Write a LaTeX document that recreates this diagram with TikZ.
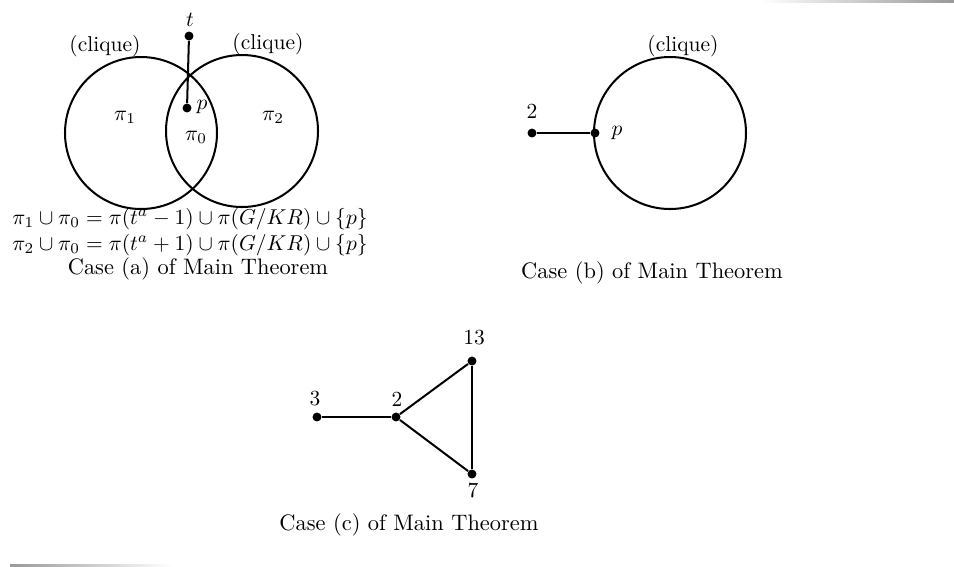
\documentclass[tikz,border=0pt]{standalone}
\usetikzlibrary{positioning}
\begin{document}
\begin{tikzpicture}[
  x=0.4464pt, y=-0.4464pt,
  vtx/.style={circle,fill,inner sep=0pt,minimum size=4pt},
  edge/.style={line width=0.9pt},
  blob/.style={line width=0.9pt},
  lbl/.style={inner sep=0pt,scale=0.96},
  capt/.style={inner sep=0pt},
]
\useasboundingbox (0,0) rectangle (954,566);
% scan edges
\shade[left color=white,right color=gray!80] (760,0) rectangle (954,2);
\shade[left color=gray!80,right color=white] (10,564) rectangle (172,566);

% Case (a): two cliques
\draw[blob] (141,133) circle[radius=76];
\draw[blob] (242,131) circle[radius=76];
\node[vtx] (ta) at (189,36) {};
\node[vtx] (pa) at (187,108) {};
\draw[edge] (ta) -- (pa);
\node[lbl] (tlbl) at (190,20) {$t$};
\node[lbl] (plbl) at (202,107) {$p$};
\node[lbl] (pi1) at (125,117) {$\pi_1$};
\node[lbl] (pi2) at (273,117) {$\pi_2$};
\node[lbl] (pi0) at (196,137) {$\pi_0$};
\node[lbl] (cqa1) at (105,46) {(clique)};
\node[lbl] (cqa2) at (268,44) {(clique)};
\node[lbl,align=center] (eqs) at (190,232)
  {$\pi_1\cup\pi_0=\pi(t^a-1)\cup\pi(G/KR)\cup\{p\}$\\[0.4pt]
   $\pi_2\cup\pi_0=\pi(t^a+1)\cup\pi(G/KR)\cup\{p\}$};
\node[capt] (capa) at (198,269) {Case (a) of Main Theorem};

% Case (b): one clique
\draw[blob] (670,133) circle[radius=76];
\node[vtx] (twob) at (532,133) {};
\node[vtx] (pb) at (595,133) {};
\draw[edge] (twob) -- (pb);
\node[lbl] (twolbl) at (532,111) {2};
\node[lbl] (pblbl) at (617,133) {$p$};
\node[lbl] (cqb) at (683,46) {(clique)};
\node[capt] (capb) at (652,273) {Case (b) of Main Theorem};

% Case (c): prime graph
\node[vtx] (v3) at (317,417) {};
\node[vtx] (v2) at (396,417) {};
\node[vtx] (v13) at (472,361) {};
\node[vtx] (v7) at (472,474) {};
\foreach \a/\b in {v3/v2,v2/v13,v2/v7,v13/v7}
  \draw[edge] (\a) -- (\b);
\node[lbl] (l3) at (315,399) {3};
\node[lbl] (l2) at (397,399) {2};
\node[lbl] (l13) at (474,338) {13};
\node[lbl] (l7) at (473,490) {7};
\node[capt] (capc) at (409,525) {Case (c) of Main Theorem};
\end{tikzpicture}
\end{document}
